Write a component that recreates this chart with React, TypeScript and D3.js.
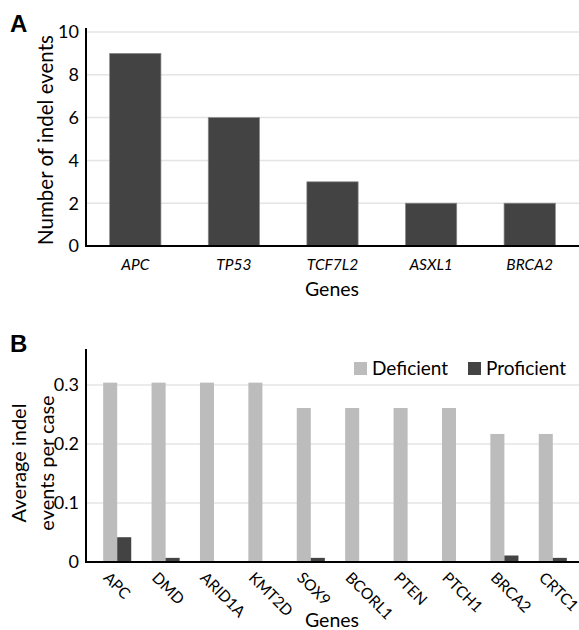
import React from "react";
import * as d3 from "d3";

const genesA = ["APC", "TP53", "TCF7L2", "ASXL1", "BRCA2"];
const countsA = [9, 6, 3, 2, 2];
const ticksA = [0, 2, 4, 6, 8, 10];

const genesB = ["APC", "DMD", "ARID1A", "KMT2D", "SOX9", "BCORL1", "PTEN", "PTCH1", "BRCA2", "CRTC1"];
const deficient = [0.304, 0.304, 0.304, 0.304, 0.261, 0.261, 0.261, 0.261, 0.217, 0.217];
const proficient = [0.042, 0.007, 0, 0, 0.007, 0, 0, 0, 0.011, 0.007];
const ticksB = [0, 0.1, 0.2, 0.3];
const seriesB = ["Deficient", "Proficient"];

const font = "Lato, 'Open Sans', sans-serif";
const dark = "#434343";
const light = "#bcbcbc";
const grid = "#e4e4e4";

const PanelA = () => {
  const x = d3.scaleBand().domain(genesA).range([86, 579]).paddingInner(0.48).paddingOuter(0.24);
  const y = d3.scaleLinear().domain([0, 10]).range([246, 32]);
  return (
    <g>
      <text x={10} y={32} fontFamily="'Liberation Sans', Arial, sans-serif" fontWeight="bold" fontSize={24}>A</text>
      {ticksA.map((t) => (
        <g key={t}>
          {t > 0 && <line x1={86} x2={579} y1={y(t)} y2={y(t)} stroke={grid} strokeWidth={1.5} />}
          <text x={79} y={y(t)} dy="0.35em" textAnchor="end" fontFamily={font} fontSize={18}>{t}</text>
        </g>
      ))}
      {genesA.map((g, i) => (
        <g key={g}>
          <rect x={x(g)} y={y(countsA[i])} width={x.bandwidth()} height={y(0) - y(countsA[i])} fill={dark} stroke="#8a8a8a" strokeWidth={0.7} />
          <text x={(x(g) ?? 0) + x.bandwidth() / 2} y={270} textAnchor="middle" fontFamily={font} fontStyle="italic" fontSize={15.5}>{g}</text>
        </g>
      ))}
      <line x1={86} x2={86} y1={28} y2={247} stroke="#000" strokeWidth={2} />
      <line x1={85} x2={579} y1={246} y2={246} stroke="#000" strokeWidth={2} />
      <text x={332} y={296} textAnchor="middle" fontFamily={font} fontSize={19.5}>Genes</text>
      <text transform="translate(53,140) rotate(-90)" textAnchor="middle" fontFamily={font} fontSize={20.5}>Number of indel events</text>
    </g>
  );
};

const PanelB = () => {
  const x0 = d3.scaleBand().domain(genesB).range([93, 577]).paddingInner(0.42).paddingOuter(0.21);
  const x1 = d3.scaleBand().domain(seriesB).range([0, x0.bandwidth()]);
  const y = d3.scaleLinear().domain([0, 0.3]).range([562, 385]);
  const colors = d3.scaleOrdinal<string>().domain(seriesB).range([light, dark]);
  const values = [deficient, proficient];
  return (
    <g>
      <text x={10} y={352} fontFamily="'Liberation Sans', Arial, sans-serif" fontWeight="bold" fontSize={24}>B</text>
      {ticksB.map((t) => (
        <g key={t}>
          {t > 0 && <line x1={86} x2={579} y1={y(t)} y2={y(t)} stroke={grid} strokeWidth={1.5} />}
          <text x={79} y={y(t)} dy="0.35em" textAnchor="end" fontFamily={font} fontSize={18}>{t === 0 ? "0" : t.toFixed(1)}</text>
        </g>
      ))}
      {genesB.map((g, i) => (
        <g key={g} transform={`translate(${x0(g)},0)`}>
          {seriesB.map((s, k) => (
            <rect key={s} x={x1(s)} y={y(values[k][i])} width={x1.bandwidth()} height={y(0) - y(values[k][i])} fill={colors(s)} />
          ))}
          <text transform={`translate(${x0.bandwidth() / 2 - 7},571) rotate(45)`} dy="0.7em" fontFamily={font} fontSize={15.5}>{g}</text>
        </g>
      ))}
      <line x1={86} x2={86} y1={349} y2={563} stroke="#000" strokeWidth={2} />
      <line x1={85} x2={579} y1={562} y2={562} stroke="#000" strokeWidth={2} />
      <text x={332} y={627} textAnchor="middle" fontFamily={font} fontSize={19.5}>Genes</text>
      <text transform="translate(26,463) rotate(-90)" textAnchor="middle" fontFamily={font} fontSize={20}>Average indel</text>
      <text transform="translate(54,463) rotate(-90)" textAnchor="middle" fontFamily={font} fontSize={20}>events per case</text>
      {seriesB.map((s, k) => {
        const lx = [354, 468][k];
        return (
          <g key={s}>
            <rect x={lx} y={362} width={13} height={13} fill={colors(s)} />
            <text x={lx + 18} y={368.5} dy="0.35em" fontFamily={font} fontSize={19}>{s}</text>
          </g>
        );
      })}
    </g>
  );
};

export default function App() {
  return (
    <svg width={579} height={630} style={{ position: "absolute", left: 0, top: 0, background: "#fff" }}>
      <PanelA />
      <PanelB />
    </svg>
  );
}
